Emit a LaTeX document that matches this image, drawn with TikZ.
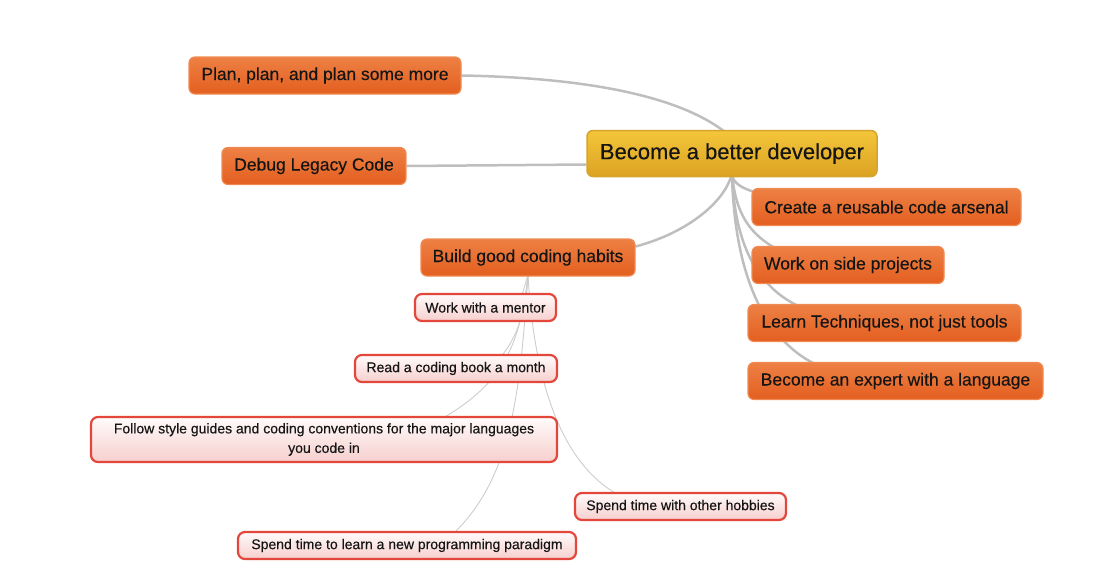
\documentclass[tikz,border=0pt]{standalone}
\usepackage{fontspec}
\setmainfont{Liberation Sans}[FakeBold=0.35]
\usetikzlibrary{backgrounds}
\definecolor{goldTop}{HTML}{F4C63A}
\definecolor{goldBot}{HTML}{DBA222}
\definecolor{goldBorder}{HTML}{D6A42A}
\definecolor{orTop}{HTML}{EE8044}
\definecolor{orBot}{HTML}{E35F1F}
\definecolor{orBorder}{HTML}{EF8A52}
\definecolor{pinkTop}{HTML}{FFFBFB}
\definecolor{pinkBot}{HTML}{F6CFCD}
\definecolor{redBorder}{HTML}{E3473B}
\definecolor{lineMain}{HTML}{BEBEBE}
\definecolor{lineSub}{HTML}{CDCDCD}
\definecolor{txt}{HTML}{151515}
\begin{document}
\begin{tikzpicture}[x=1pt,y=-1pt,
  central/.style={draw=goldBorder, line width=1.5pt, rounded corners=6pt,
    top color=goldTop, bottom color=goldBot, text=txt,
    font=\fontsize{22}{26}\selectfont, minimum width=290pt, minimum height=46pt, inner sep=0pt},
  topic/.style={draw=orBorder, line width=1.2pt, rounded corners=6pt,
    top color=orTop, bottom color=orBot, text=txt,
    font=\fontsize{17.5}{21}\selectfont, minimum height=37pt, inner sep=0pt},
  sub/.style={draw=redBorder, line width=2.2pt, rounded corners=7pt,
    top color=pinkTop, bottom color=pinkBot, text=txt,
    font=\fontsize{14}{17}\selectfont, minimum height=27pt, inner sep=0pt},
  mainline/.style={draw=lineMain, line width=2.5pt},
  subline/.style={draw=lineSub, line width=0.9pt}
]
\useasboundingbox (0,0) rectangle (1095,581);

\node[central] (c) at (732,153.5) {Become a better developer};

\node[topic, minimum width=272pt] (plan) at (325,75.5) {Plan, plan, and plan some more};
\node[topic, minimum width=184pt] (debug) at (314,166) {Debug Legacy Code};
\node[topic, minimum width=214pt] (build) at (528,257.5) {Build good coding habits};
\node[topic, minimum width=269pt] (create) at (886.5,207) {Create a reusable code arsenal};
\node[topic, minimum width=192pt] (side) at (848,265) {Work on side projects};
\node[topic, minimum width=273pt] (learn) at (884.5,323) {Learn Techniques, not just tools};
\node[topic, minimum width=295pt] (expert) at (895.5,381) {Become an expert with a language};

\node[sub, minimum width=141pt] (mentor) at (485.5,307.5) {Work with a mentor};
\node[sub, minimum width=202pt] (read) at (456,368.5) {Read a coding book a month};
\node[sub, minimum width=466pt, minimum height=45pt, align=center, font=\fontsize{14}{19.5}\selectfont] (follow) at (324,439.5)
  {Follow style guides and coding conventions for the major languages\\you code in};
\node[sub, minimum width=211pt] (hobbies) at (680.5,506.5) {Spend time with other hobbies};
\node[sub, minimum width=338pt] (paradigm) at (407,545.5) {Spend time to learn a new programming paradigm};

\begin{scope}[on background layer]
  \draw[mainline] (plan.east) .. controls (600,78) and (695,100) .. ([xshift=4pt,yshift=-12pt]c.north);
  \draw[mainline] (debug.east) -- ([yshift=-11pt]c.west);
  \draw[mainline] ([yshift=11pt]build.east) .. controls (690,232) and (726,200) .. ([yshift=4pt]c.south);
  \draw[mainline] ([yshift=3pt]c.south) .. controls (733,185) and (745,190) .. ([xshift=-118pt,yshift=-8pt]create.north);
  \draw[mainline] ([yshift=3pt]c.south) .. controls (736,215) and (750,235) .. ([xshift=-68pt,yshift=-5pt]side.north);
  \draw[mainline] ([yshift=3pt]c.south) .. controls (735,250) and (760,290) .. ([xshift=-80pt,yshift=-5pt]learn.north);
  \draw[mainline] ([yshift=3pt]c.south) .. controls (735,300) and (780,350) .. ([xshift=-74pt,yshift=-5pt]expert.north);

  \draw[subline] ([yshift=2pt]build.south) -- ([xshift=36pt,yshift=-4pt]mentor.north);
  \draw[subline] ([yshift=2pt]build.south) .. controls (524,320) and (515,340) .. ([xshift=44pt,yshift=-4pt]read.north);
  \draw[subline] ([yshift=2pt]build.south) .. controls (520,350) and (500,385) .. ([xshift=116pt,yshift=-4pt]follow.north);
  \draw[subline] ([yshift=2pt]build.south) .. controls (520,400) and (510,480) .. ([xshift=45pt,yshift=-4pt]paradigm.north);
  \draw[subline] ([yshift=2pt]build.south) .. controls (535,400) and (570,470) .. ([xshift=-60pt,yshift=-4pt]hobbies.north);
\end{scope}
\end{tikzpicture}
\end{document}
